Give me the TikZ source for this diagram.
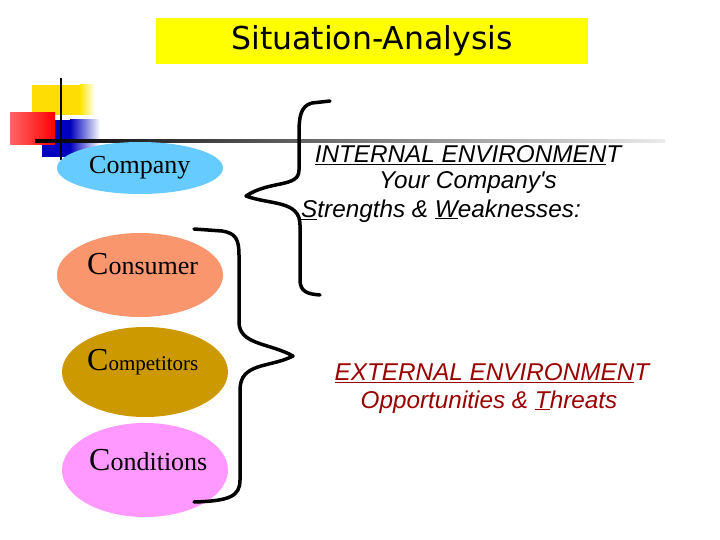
\documentclass[tikz,border=0pt]{standalone}
\usepackage{fontspec}
\setmainfont{Liberation Serif}
\newfontfamily\arial{Liberation Sans}
\newfontfamily\titlefont{DejaVu Sans}
\usetikzlibrary{shapes.geometric}
\definecolor{ttl}{RGB}{255,255,0}
\definecolor{cblue}{RGB}{102,204,255}
\definecolor{corange}{RGB}{250,150,110}
\definecolor{cgold}{RGB}{204,153,0}
\definecolor{cpink}{RGB}{255,153,255}
\definecolor{dred}{RGB}{153,0,0}
\tikzset{
 ell/.style={ellipse,draw=none,minimum width=166pt},
 lab/.style={font=\fontsize{26}{28}\selectfont, anchor=west, inner sep=0pt},
 env/.style={font=\arial\itshape\fontsize{24.3}{26}\selectfont},
 brace/.style={line width=3.5pt, line cap=round, line join=round}
}
\begin{document}
\begin{tikzpicture}[x=1pt,y=-1pt]
\useasboundingbox (0,0) rectangle (720,540);
\fill[white] (0,0) rectangle (720,540);
\node[fill=ttl,minimum width=432pt,minimum height=46pt] (title) at (372,41) {\titlefont\fontsize{31.5}{32}\selectfont Situation-Analysis};
% decoration
\fill[yellow!80!orange] (32,85) rectangle (80,115);
\shade[left color=yellow!80!orange,right color=white] (80,85) rectangle (95,115);
\shade[left color=red!60!white,right color=red] (10,113) rectangle (55,145);
\fill[blue!75!black] (42,145) rectangle (70,157);
\fill[blue!75!black] (55,120) rectangle (70,145);
\shade[left color=blue!75!black,right color=white] (70,120) rectangle (100,157);
\draw[line width=2pt] (61,78) -- (61,160);
\shade[left color=black,right color=gray!15] (35,140) rectangle (665,142.5);
% ellipses
\node[ell,fill=cblue,minimum height=52pt] (company) at (140,168) {};
\node[ell,fill=corange,minimum height=84pt] (consumer) at (140,275) {};
\node[ell,fill=cgold,minimum height=90pt] (competitors) at (145,372) {};
\node[ell,fill=cpink,minimum height=94pt] (conditions) at (145,470) {};
\node[lab] (tcompany) at (89,168) {Company};
\node[lab] (tconsumer) at (87,264) {{\fontsize{32}{32}\selectfont C}onsumer};
\node[lab,font=\fontsize{21}{23}\selectfont] (tcomp) at (87,362) {{\fontsize{32}{32}\selectfont C}ompetitors};
\node[lab] (tcond) at (89,460) {{\fontsize{32}{32}\selectfont C}onditions};
% braces
\draw[brace] (330,101) -- (312,103) .. controls (300,106) and (299,118) .. (299,135)
  -- (299,170) .. controls (299,188) and (270,180) .. (246,196)
  .. controls (270,205) and (300,200) .. (300,225) -- (300,280)
  .. controls (300,292) and (308,294) .. (320,295);
\draw[brace] (194,229) -- (222,231) .. controls (236,233) and (239,240) .. (239,255)
  -- (239,322) .. controls (239,345) and (270,343) .. (293,356)
  .. controls (270,368) and (240,362) .. (240,390) -- (240,480)
  .. controls (240,496) and (230,501) .. (194,502);
% texts
\node[env] (int1) at (468,155) {\underline{INTERNAL ENVIRONMEN}T};
\node[env] (int2) at (468,183) {Your Company's};
\node[env] (int3) at (441,211) {\underline{S}trengths \& \underline{W}eaknesses:};
\node[env,text=dred] (ext1) at (492,373) {\underline{EXTERNAL ENVIRONMEN}T};
\node[env,text=dred] (ext2) at (489,402) {Opportunities \& \underline{T}hreats};
\end{tikzpicture}
\end{document}
